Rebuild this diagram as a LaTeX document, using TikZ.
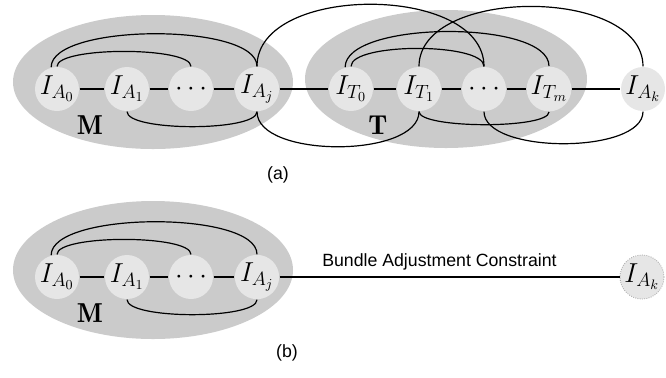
\RequirePackage{fix-cm}
\documentclass[tikz,border=0pt]{standalone}
\usepackage{fontspec}
\setsansfont{Liberation Sans}
\usetikzlibrary{positioning}
\definecolor{ba-cluster}{HTML}{CBCBCB}
\definecolor{ba-frame}{HTML}{E6E6E6}
\definecolor{ba-rim}{HTML}{ABABAB}

\begin{document}
\begin{tikzpicture}[
    line width=0.85pt,
    % keyframe circles and the set labels
    fr/.style={circle, fill=ba-frame, minimum size=1.1cm, inner sep=0pt, font=\fontsize{19.5}{21}\selectfont},
    newfr/.style={fr, draw=ba-rim, densely dotted, line width=0.6pt},
    setlabel/.style={font=\fontsize{19.5}{21}\selectfont},
    caplabel/.style={font=\sffamily\fontsize{12.6}{14}\selectfont}
  ]
  \useasboundingbox (0,0) rectangle (16.65,-9.425);

  % =========================================================================
  % (a): MAP SET M, TRACKING SET T AND NEW KEYFRAME
  % =========================================================================
  \begin{scope}[shift={(0,0)}]
    \fill[ba-cluster] (3.825,-2.05) ellipse [x radius=3.5, y radius=1.675];
    \fill[ba-cluster] (11.15,-1.975) ellipse [x radius=3.525, y radius=1.725];

    \node[fr] (a0) at (1.425,-2.225) {$I_{A_0}$};
    \node[fr] (a1) at (3.175,-2.225) {$I_{A_1}$};
    \node[fr] (ad) at (4.775,-2.225) {$\cdots$};
    \node[fr] (aj) at (6.425,-2.225) {$I_{A_j}$};
    \node[fr] (t0) at (8.775,-2.225) {$I_{T_0}$};
    \node[fr] (t1) at (10.475,-2.225) {$I_{T_1}$};
    \node[fr] (td) at (12.1,-2.225) {$\cdots$};
    \node[fr] (tm) at (13.725,-2.225) {$I_{T_m}$};
    \node[fr] (ak) at (16.075,-2.225) {$I_{A_k}$};

    \node[setlabel] (mlab) at (2.25,-3.125) {$\mathbf{M}$};
    \node[setlabel] (tlab) at (9.45,-3.125) {$\mathbf{T}$};

    % chain
    \draw (a0) -- (a1) -- (ad) -- (aj) -- (t0) -- (t1) -- (td) -- (tm) -- (ak);

    % arcs inside M
    \draw (a0.105) .. controls +(0,1.1) and +(0,1.1) .. (aj.north);
    \draw (a0.north) .. controls +(0,0.5) and +(0,0.5) .. (ad.north);
    \draw (a1.south) .. controls +(0,-0.5) and +(0,-0.5) .. (aj.south);

    % arcs from M into T
    \draw (aj.north) .. controls +(0,2.07) and +(0,2.07) .. (td.north);
    \draw (aj.south) .. controls +(0,-1.17) and +(0,-1.17) .. (t1.south);

    % arcs inside T and to the new keyframe
    \draw (t0.105) .. controls +(0,1.17) and +(0,1.17) .. (tm.north);
    \draw (t0.north) .. controls +(0,0.6) and +(0,0.6) .. (td.north);
    \draw (t1.north) .. controls +(0,2.0) and +(0,2.0) .. (ak.north);
    \draw (t1.south) .. controls +(0,-0.43) and +(0,-0.43) .. (tm.south);
    \draw (td.south) .. controls +(0,-1.07) and +(0,-1.07) .. (ak.south);

    \node[caplabel] (capa) at (6.95,-4.375) {(a)};
  \end{scope}

  % =========================================================================
  % (b): MAP SET M ONLY
  % =========================================================================
  \begin{scope}[shift={(0,-4.7)}]
    \fill[ba-cluster] (3.825,-2.05) ellipse [x radius=3.5, y radius=1.725];

    \node[fr] (b0) at (1.425,-2.225) {$I_{A_0}$};
    \node[fr] (b1) at (3.175,-2.225) {$I_{A_1}$};
    \node[fr] (bd) at (4.775,-2.225) {$\cdots$};
    \node[fr] (bj) at (6.425,-2.225) {$I_{A_j}$};
    \node[newfr] (bk) at (16.05,-2.225) {$I_{A_k}$};

    \node[setlabel] (mlabb) at (2.25,-3.125) {$\mathbf{M}$};

    \draw (b0) -- (b1) -- (bd) -- (bj);
    \draw (bj) -- node[caplabel, above, pos=0.47, yshift=1pt] {Bundle Adjustment Constraint} (bk);

    \draw (b0.105) .. controls +(0,1.1) and +(0,1.1) .. (bj.north);
    \draw (b0.north) .. controls +(0,0.5) and +(0,0.5) .. (bd.north);
    \draw (b1.south) .. controls +(0,-0.5) and +(0,-0.5) .. (bj.south);

    \node[caplabel] (capb) at (7.175,-4.125) {(b)};
  \end{scope}

\end{tikzpicture}
\end{document}
